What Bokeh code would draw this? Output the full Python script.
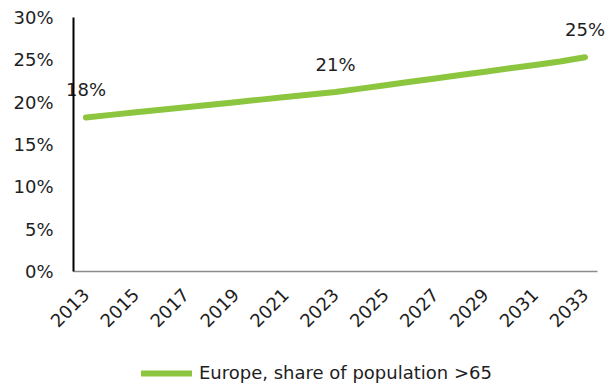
import math
from bokeh.plotting import figure
from bokeh.models import ColumnDataSource, Legend, LegendItem, FixedTicker, Range1d
from bokeh.core.properties import value
from bokeh.embed import file_html
from bokeh.resources import INLINE

years = list(range(2013, 2034))
share = [18.2, 18.5, 18.8, 19.1, 19.4, 19.7, 20.0, 20.3, 20.6, 20.9, 21.2,
         21.6, 22.0, 22.4, 22.8, 23.2, 23.6, 24.0, 24.4, 24.8, 25.3]
label_years = [2013, 2023, 2033]
label_texts = ["18%", "21%", "25%"]
y_ticks = [0, 5, 10, 15, 20, 25, 30]
x_ticks = list(range(2013, 2034, 2))
series_name = "Europe, share of population >65"

FONT = "DejaVu Sans"
FS = "18px"
GREEN = "#8CC63F"
TXT = "#1e1e1e"

W, H = 609, 385
# plot area in pixels (frame covers whole canvas; axes are placed inside)
L, R, T, B = 73, 597, 17, 271
x0, x1 = years[0] - 0.5, years[-1] + 0.5
y0, y1 = y_ticks[0], y_ticks[-1]
pxx = (R - L) / (x1 - x0)
pxy = (B - T) / (y1 - y0)
xr = Range1d(x0 - L / pxx, x1 + (W - R) / pxx)
yr = Range1d(y0 - (H - B) / pxy, y1 + T / pxy)

p = figure(width=W, height=H, output_backend="svg", toolbar_location=None,
           x_range=xr, y_range=yr,
           min_border_left=0, min_border_right=0, min_border_top=0,
           min_border_bottom=0)
p.outline_line_color = None
p.xgrid.visible = False
p.ygrid.visible = False

src = ColumnDataSource(dict(x=years, y=share))
r = p.line("x", "y", source=src, line_color=GREEN, line_width=6,
           line_cap="round", line_join="round")

lbl_y = [share[years.index(yv)] for yv in label_years]
p.text(x=label_years, y=lbl_y, text=label_texts, text_font=value(FONT),
       text_font_size=FS, text_color=TXT, text_align="center",
       text_baseline="middle", y_offset=-28)

# y axis
ya = p.yaxis[0]
ya.fixed_location = x0
ya.bounds = (y0, y1)
ya.ticker = FixedTicker(ticks=y_ticks)
ya.major_label_overrides = {t: f"{t}%" for t in y_ticks}
ya.axis_line_color = "black"
ya.axis_line_width = 2
ya.major_tick_line_color = None
ya.minor_tick_line_color = None
ya.major_tick_out = 0
ya.major_tick_in = 0
ya.major_label_standoff = 20
ya.major_label_text_font = FONT
ya.major_label_text_font_size = FS
ya.major_label_text_color = TXT

# x axis
xa = p.xaxis[0]
xa.fixed_location = y0
xa.bounds = (x0, x1)
xa.ticker = FixedTicker(ticks=x_ticks)
xa.major_label_overrides = {t: str(t) for t in x_ticks}
xa.axis_line_color = "#8c8c8c"
xa.axis_line_width = 1.5
xa.major_tick_line_color = None
xa.minor_tick_line_color = None
xa.major_tick_out = 0
xa.major_tick_in = 0
xa.major_label_standoff = 20
xa.major_label_orientation = math.pi / 4
xa.major_label_text_font = FONT
xa.major_label_text_font_size = FS
xa.major_label_text_color = TXT

legend = Legend(items=[LegendItem(label=series_name, renderers=[r])],
                location=(141, 2), orientation="horizontal",
                glyph_width=51, glyph_height=20, label_standoff=7,
                label_height=20, padding=0, margin=0, spacing=0,
                border_line_color=None, background_fill_alpha=0,
                label_text_font=FONT, label_text_font_size=FS,
                label_text_color=TXT)
p.add_layout(legend, "center")

open("out.html", "w").write(file_html(p, INLINE))
